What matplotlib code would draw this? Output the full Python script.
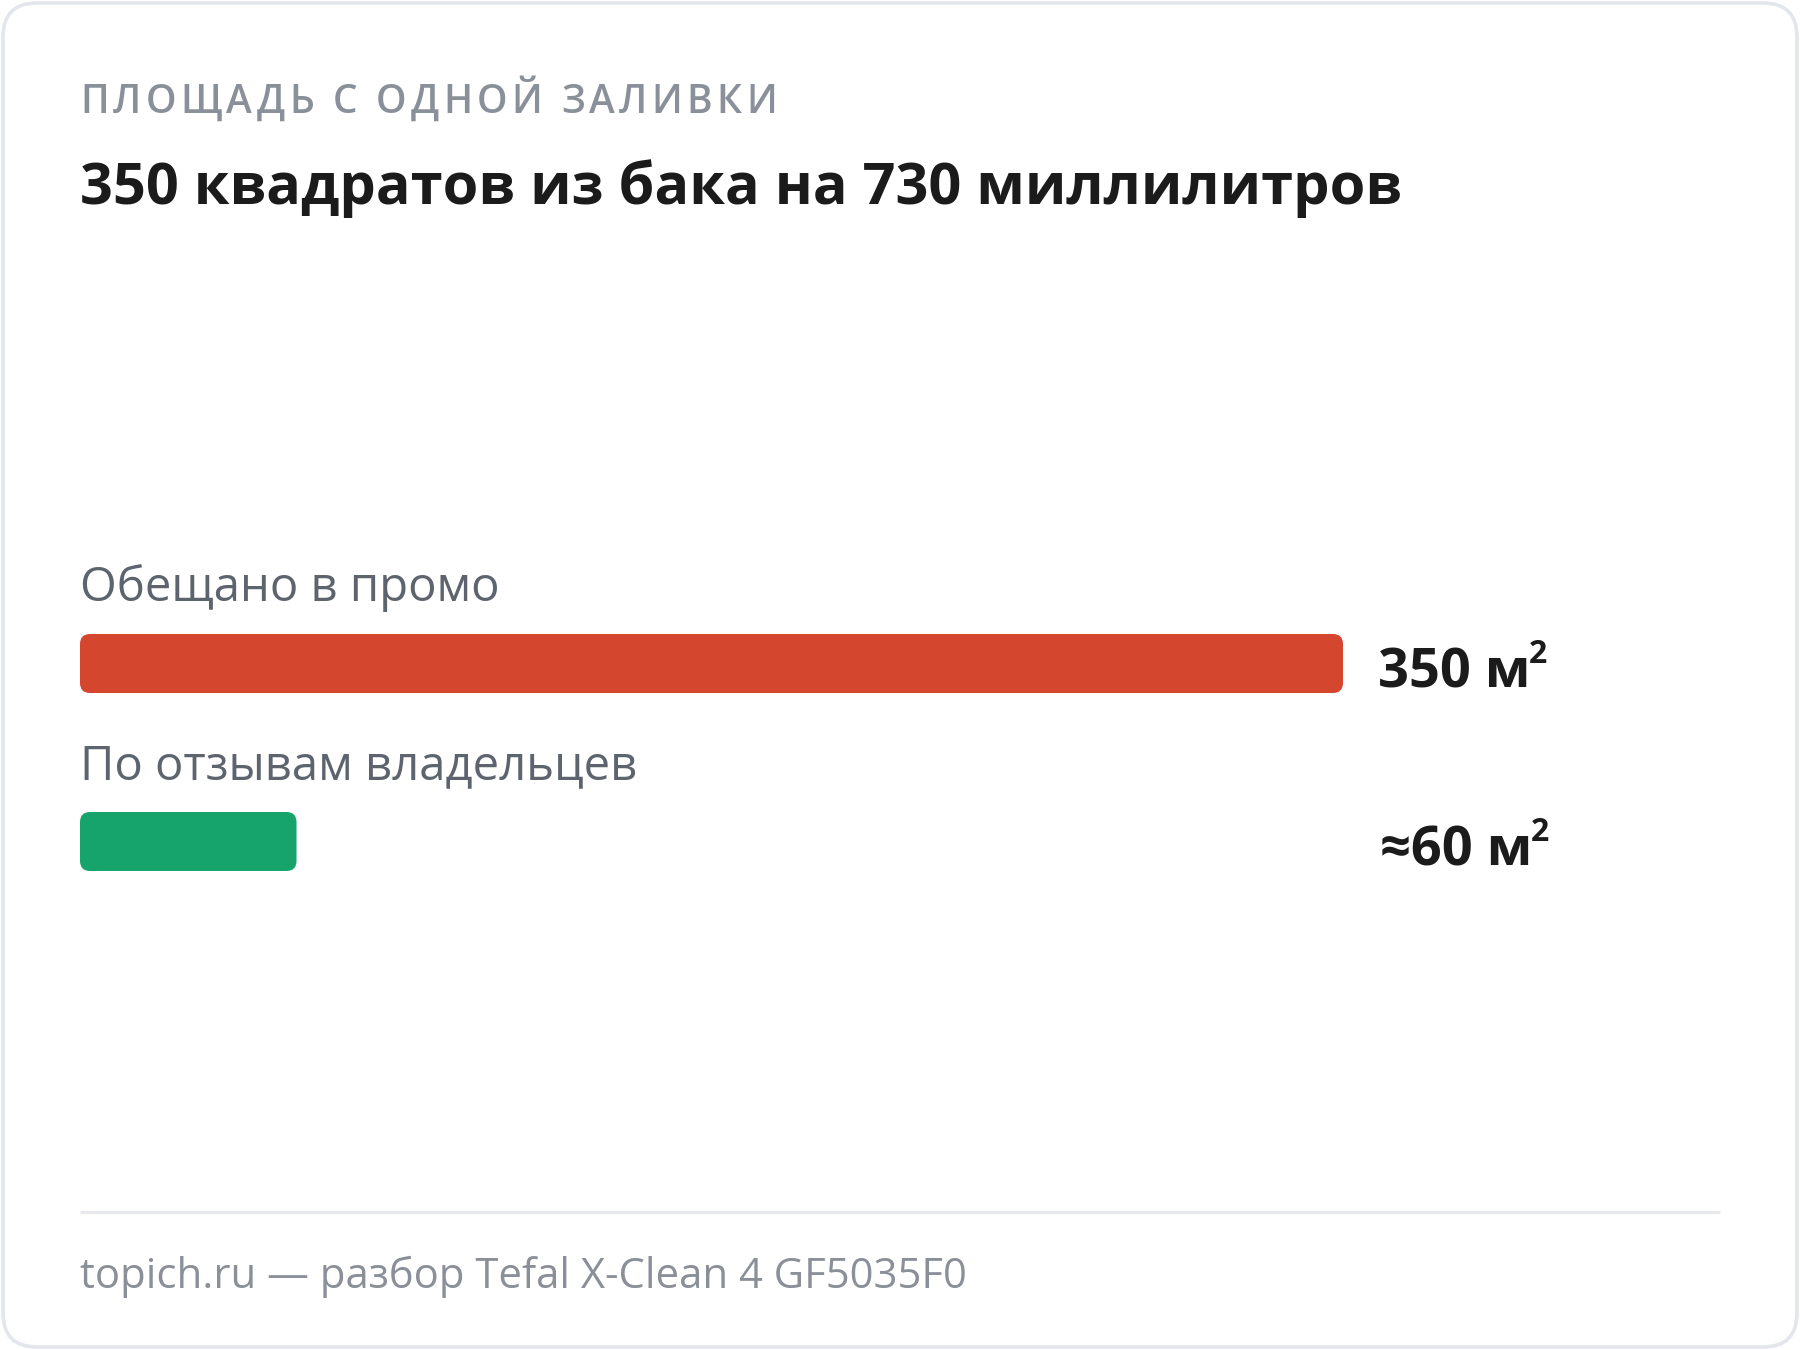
import matplotlib
matplotlib.use("Agg")
import matplotlib.pyplot as plt
from matplotlib.patches import FancyBboxPatch

# data
categories = ["Обещано в промо", "По отзывам владельцев"]
values = [350, 60]
value_labels = ["350 м", "≈60 м"]
unit_sup = "2"
bar_colors = ["#d5462f", "#17a46c"]

kicker = "ПЛОЩАДЬ С ОДНОЙ ЗАЛИВКИ"
title = "350 квадратов из бака на 730 миллилитров"
footer = "topich.ru — разбор Tefal X-Clean 4 GF5035F0"

plt.rcParams['font.family'] = ['Open Sans', 'DejaVu Sans']

W, H = 1800, 1350
fig = plt.figure(figsize=(18, 13.5), dpi=100)
fig.patch.set_facecolor("white")

# full-figure axes in pixel units for card, texts and rule
bg = fig.add_axes([0, 0, 1, 1])
bg.set_xlim(0, W)
bg.set_ylim(H, 0)
bg.axis("off")

card = FancyBboxPatch((3, 3), W - 6, H - 6,
	boxstyle="round,pad=0,rounding_size=34",
	facecolor="white", edgecolor="#e3e6eb", linewidth=2.6)
bg.add_patch(card)

renderer = fig.canvas.get_renderer()

def px_width(t):
	return t.get_window_extent(renderer=renderer).width

# kicker with letter spacing, char by char
x = 80
for ch in kicker:
	t = bg.text(x, 113, ch, fontsize=28, color="#8a9099", va="baseline", ha="left",
		fontweight="semibold")
	x += px_width(t) + 4.3

bg.text(80, 204, title, fontsize=41.5, fontweight="bold", color="#1b1b1b",
	va="baseline", ha="left")

label_base = [601, 779]
for lab, yb in zip(categories, label_base):
	bg.text(80, yb, lab, fontsize=34, color="#5d646e", va="baseline", ha="left")

bg.plot([80, 1720], [1212, 1212], color="#e8e9ec", lw=2.4, solid_capstyle="butt")
bg.text(80, 1288, footer, fontsize=30.2, color="#8a8f98", va="baseline", ha="left")

# bar axes: x in data units, y in pixel units
bar_left, bar_right = 80, 1343
ax = fig.add_axes([bar_left / W, 0, (bar_right - bar_left) / W, 1])
ax.set_xlim(0, values[0])
ax.set_ylim(H, 0)
ax.axis("off")
ax.patch.set_alpha(0)

sx = values[0] / (bar_right - bar_left)  # data units per pixel
centers = [663.5, 841.5]
bh = 59
for v, c, yc in zip(values, bar_colors, centers):
	p = FancyBboxPatch((0, yc - bh / 2), v, bh,
		boxstyle="round,pad=0,rounding_size=%f" % (10 * sx),
		mutation_aspect=1 / sx, facecolor=c, edgecolor="none")
	ax.add_patch(p)

value_base = [687, 865]
label_x = [1378, 1380]
for lab, yb, lx in zip(value_labels, value_base, label_x):
	t = bg.text(lx, yb, lab, fontsize=39, fontweight="bold", color="#1b1b1b",
		va="baseline", ha="left")
	w = px_width(t)
	bg.text(lx + w - 2, yb - 24, unit_sup, fontsize=23, fontweight="bold",
		color="#1b1b1b", va="baseline", ha="left")

fig.savefig("out.png", dpi=100, facecolor="white")
